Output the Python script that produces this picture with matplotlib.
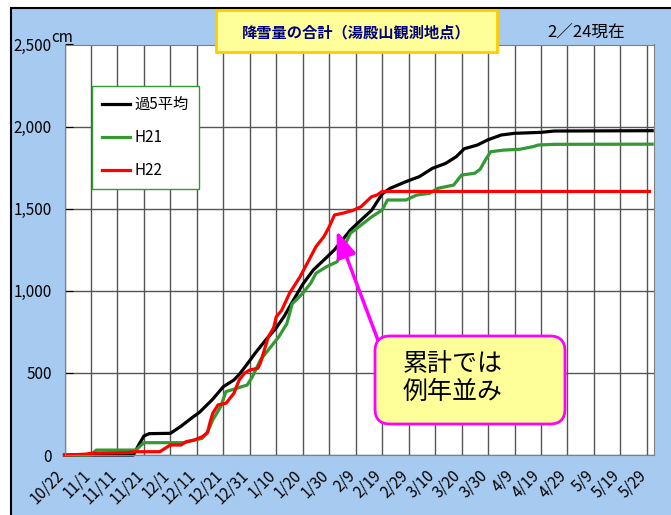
import matplotlib
matplotlib.use('Agg')
import matplotlib.pyplot as plt
from matplotlib.patches import Rectangle, FancyBboxPatch
from matplotlib.ticker import FuncFormatter
from matplotlib.transforms import ScaledTranslation

# 日本語フォント設定
plt.rcParams['font.family'] = ['Noto Sans CJK JP', 'DejaVu Sans']

# x は 10/22 からの経過日数, 値は累計降雪量 (cm)
avg_day = [0, 26, 28, 30, 32, 40, 44, 48, 51, 56, 60, 64, 66, 70, 72, 76, 80, 83, 86, 90,
           94, 98, 102, 104, 108, 112, 116, 120, 123, 129, 134, 139, 144, 148, 151, 156,
           160, 165, 170, 180, 185, 222]
avg_val = [0, 0, 60, 116, 130, 132, 175, 225, 260, 340, 416, 457, 490, 575, 620, 700, 775,
           845, 930, 1040, 1127, 1188, 1250, 1290, 1370, 1431, 1490, 1590, 1624, 1665, 1695,
           1746, 1776, 1817, 1865, 1888, 1920, 1949, 1959, 1965, 1973, 1975]

h21_day = [0, 10, 12, 27, 30, 45, 49, 52, 54, 56, 59, 61, 65, 69, 71, 74, 78, 81, 84, 86,
           90, 93, 95, 99, 103, 105, 108, 112, 116, 120, 122, 129, 133, 138, 141, 147, 150,
           155, 157, 159, 161, 166, 172, 177, 179, 185, 222]
h21_val = [0, 0, 30, 30, 75, 75, 91, 101, 140, 213, 294, 386, 406, 426, 477, 579, 660, 721,
           800, 920, 985, 1046, 1107, 1147, 1177, 1249, 1350, 1400, 1450, 1492, 1553, 1553,
           1583, 1594, 1624, 1644, 1705, 1716, 1740, 1797, 1847, 1857, 1862, 1878, 1888,
           1892, 1893]

h22_day = [0, 8, 10, 24, 27, 36, 39, 40, 44, 46, 49, 52, 54, 55, 56, 58, 61, 64, 66, 68,
           70, 73, 74, 77, 79, 80, 82, 85, 89, 92, 95, 98, 100, 102, 105, 109, 112, 114,
           116, 118, 120, 221]
h22_val = [0, 5, 10, 15, 20, 20, 51, 61, 61, 81, 91, 111, 135, 200, 254, 305, 315, 376, 457,
           498, 518, 528, 560, 720, 775, 842, 880, 985, 1086, 1177, 1269, 1330, 1390, 1462,
           1472, 1490, 1512, 1543, 1573, 1583, 1605, 1605]

tick_days = list(range(0, 221, 10))
tick_labels = ['10/22', '11/1', '11/11', '11/21', '12/1', '12/11', '12/21', '12/31',
               '1/10', '1/20', '1/30', '2/9', '2/19', '2/29', '3/10', '3/20', '3/30',
               '4/9', '4/19', '4/29', '5/9', '5/19', '5/29']

title_text = '降雪量の合計（湯殿山観測地点）'
date_text = '2／24現在'
note_text = '累計では\n例年並み'

fig = plt.figure(figsize=(6.71, 5.15), dpi=100)
inch = fig.dpi_scale_trans

# 水色の背景 (左と上だけ黒枠)
fig.add_artist(Rectangle((0.11, -0.5), 7.0, 5.57, transform=inch,
                         facecolor='#A6CAF0', edgecolor='black', lw=1.5, zorder=-1))

ax = fig.add_axes([64.5 / 671, 1 - 455 / 515, 589 / 671, 410.5 / 515])
ax.set_facecolor('white')
ax.set_axisbelow(True)

ax.plot(avg_day, avg_val, color='black', lw=2.3, label='過5平均', clip_on=False)
ax.plot(h21_day, h21_val, color='#339933', lw=2.3, label='H21', clip_on=False)
ax.plot(h22_day, h22_val, color='#FF0000', lw=2.3, label='H22', clip_on=False)

ax.set_xlim(0, 222.5)
ax.set_ylim(0, 2500)
ax.set_yticks(range(0, 2501, 500))
ax.yaxis.set_major_formatter(FuncFormatter(lambda v, p: f'{int(v):,}'))
ax.set_xticks(tick_days)
ax.set_xticklabels([])
# 斜めの日付ラベルは手で置く (目盛りの少し左下)
lab_trans = ax.get_xaxis_transform() + ScaledTranslation(-0.035, -0.18, inch)
for d, lab in zip(tick_days, tick_labels):
    ax.text(d, 0, lab, transform=lab_trans, rotation=45, ha='right', va='center',
            rotation_mode='anchor', fontsize=11, clip_on=False)
ax.tick_params(axis='y', direction='in', length=6, pad=9, labelsize=11)
ax.tick_params(axis='x', length=0)
ax.grid(True, color='#555555', lw=1)
for s in ax.spines.values():
    s.set_color('#808080')

# 凡例
ax.legend(loc='upper left', bbox_to_anchor=(91.7 / 671, 1 - 86 / 515),
          bbox_transform=fig.transFigure, fancybox=False, edgecolor='#339933',
          framealpha=1, fontsize=11, labelspacing=1.05, handlelength=1.85,
          handletextpad=0.3, borderpad=0.65, borderaxespad=0)

# 矢印
ax.annotate('', xy=(102.8, 1366), xytext=(118.4, 700),
            arrowprops=dict(arrowstyle='-|>,head_length=0.8,head_width=0.3',
                            color='#FF00FF', lw=2.5, mutation_scale=20,
                            shrinkA=0, shrinkB=0))

# タイトル
fig.add_artist(Rectangle((2.16, 4.633), 2.807, 0.417, transform=inch,
                         facecolor='#FFFF99', edgecolor='#FFCC00', lw=2, zorder=5))
fig.text(355.8 / 671, 1 - 32 / 515, title_text, ha='center', va='center',
         fontsize=11, fontweight='bold', color='#000080', zorder=6)
fig.text(586 / 671, 1 - 32 / 515, date_text, ha='center', va='center', fontsize=12)
fig.text(62 / 671, 1 - 37 / 515, 'cm', ha='center', va='center', fontsize=11)

# コメント枠
fig.add_artist(FancyBboxPatch((3.75, 0.91), 1.90, 0.88,
                              boxstyle='round,pad=0,rounding_size=0.15', transform=inch,
                              facecolor='#FFFF99', edgecolor='#FF00FF', lw=2, zorder=5))
fig.text(403 / 671, 1 - 378 / 515, note_text, ha='left', va='center', fontsize=18,
         linespacing=1.1, zorder=6)

fig.savefig('out.png', dpi=100)
